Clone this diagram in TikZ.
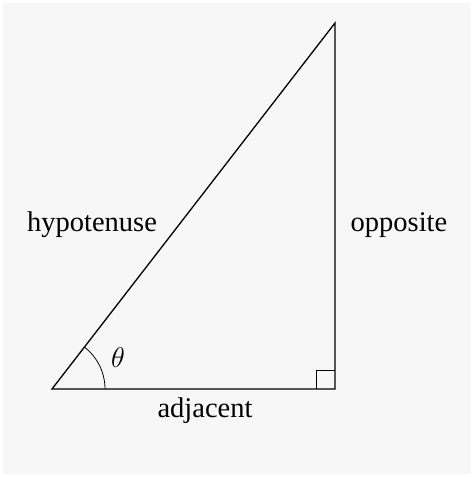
\RequirePackage{fix-cm}
\documentclass[tikz,border=0pt]{standalone}
\usepackage{fontspec}
\setmainfont{Liberation Serif}
\usepackage{amsmath}
\usetikzlibrary{calc,positioning}
\definecolor{bggray}{HTML}{F7F7F7}

\begin{document}
\begin{tikzpicture}[
    x=1pt,y=1pt,
    side/.style={line width=1.3pt,line join=miter},
    thinline/.style={line width=0.8pt},
    lbl/.style={anchor=base,inner sep=0pt,font=\fontsize{28.5}{34}\selectfont}]
    % background and margins
    \fill[white] (0,0) rectangle (474,477);
    \fill[bggray] (3,3) rectangle (471,474);
    \useasboundingbox (0,0) rectangle (474,477);

    \coordinate (A) at (52,88);
    \coordinate (B) at (335,88);
    \coordinate (C) at (335,454);

    \draw[side] (A) -- (B) -- (C) -- cycle;
    \draw[thinline] ($(B)+(-19,0)$) -- ++(0,19) -- ++(19,0);
    \draw[thinline] ($(A)+(53,0)$) arc (0:52.3:53);

    \node[lbl] (hyp) at (92,245) {hypotenuse};
    \node[lbl] (opp) at (399,245) {opposite};
    \node[lbl] (adj) at (205,59) {adjacent};
    \node[lbl] (theta) at (118,109) {$\theta$};
  \end{tikzpicture}
\end{document}
